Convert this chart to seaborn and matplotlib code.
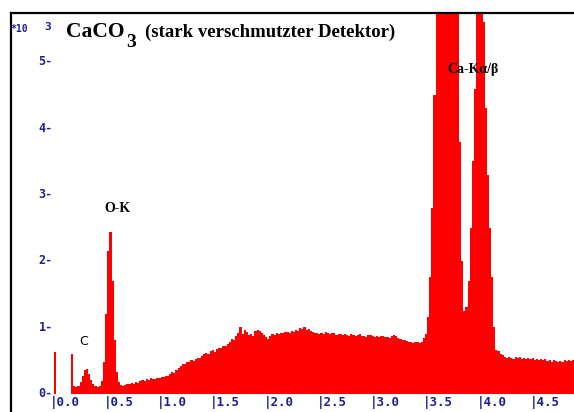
import numpy as np
import pandas as pd
import matplotlib
matplotlib.use("Agg")
import matplotlib.pyplot as plt
import matplotlib.transforms as mtransforms
import seaborn as sns

# EDX spectrum, 0.02 keV channels starting at 0 keV (counts per channel)
channel_kev = 0.02
counts = [
    620, 0, 0, 0, 0, 0, 0, 0, 590, 110,                      # 0.0
    105, 120, 175, 265, 350, 370, 300, 210, 140, 110,        # 0.2  C
    100, 110, 190, 480, 1200, 2150, 2430, 1700, 800, 330,    # 0.4  O-K
    180, 125, 120, 135, 150, 140, 165, 150, 175, 160,        # 0.6
    185, 200, 190, 215, 205, 230, 215, 225, 240, 235,        # 0.8
    250, 245, 265, 260, 300, 320, 310, 350, 390, 420,        # 1.0
    450, 440, 480, 470, 505, 490, 525, 540, 530, 560,        # 1.2
    590, 610, 600, 640, 655, 630, 670, 690, 680, 720,        # 1.4
    710, 745, 780, 820, 800, 860, 910, 1010, 890, 960,       # 1.6
    930, 880, 900, 870, 950, 960, 940, 905, 880, 850,        # 1.8
    820, 870, 890, 880, 905, 895, 920, 910, 935, 925,        # 2.0
    910, 940, 930, 960, 950, 990, 970, 1000, 960, 980,       # 2.2
    950, 930, 905, 915, 890, 920, 900, 935, 910, 895,        # 2.4
    905, 920, 880, 900, 890, 875, 895, 880, 870, 890,        # 2.6
    880, 865, 875, 890, 860, 870, 855, 875, 880, 865,        # 2.8
    850, 865, 845, 860, 870, 850, 855, 840, 860, 875,        # 3.0
    870, 840, 820, 800, 810, 790, 770, 780, 760, 775,        # 3.2
    770, 760, 780, 830, 900, 1150, 1750, 2800, 4500, 8000,   # 3.4
    12000, 16000, 19500, 21500, 22000, 20500, 17500, 13500, 9500, 6200,  # 3.6 Ca-Ka
    3800, 2000, 1250, 1300, 1700, 2500, 3500, 4600, 6500, 8500,          # 3.8
    8000, 5600, 4300, 3300, 2500, 1750, 1000, 660, 640, 600,             # 4.0 Ca-Kb
    580, 545, 530, 555, 540, 520, 545, 530, 550, 525,        # 4.2
    540, 520, 535, 515, 530, 510, 525, 500, 520, 505,        # 4.4
    515, 495, 505, 480, 500, 490, 470, 495, 480, 500,        # 4.6
    490, 505, 485, 500,                                      # 4.8
]

x_ticks = [0.0, 0.5, 1.0, 1.5, 2.0, 2.5, 3.0, 3.5, 4.0, 4.5]
x_labels = ["|0.0", "|0.5", "|1.0", "|1.5", "|2.0", "|2.5", "|3.0", "|3.5", "|4.0", "|4.5"]
y_ticks = [0, 1000, 2000, 3000, 4000, 5000]
y_labels = ["0-", "1-", "2-", "3-", "4-", "5-"]

peaks = [("C", 0.28, 777, "sans"), ("O-K", 0.60, 2790, "serif"), ("Ca-Kα/β", 3.93, 4880, "serif")]

n_ch = len(counts)
spec = pd.DataFrame({"energy": (np.arange(n_ch) + 0.5) * channel_kev, "counts": counts})

sns.set_style("white")
plt.rcParams["font.family"] = ["DejaVu Sans"]

W, H = 574, 412
fig = plt.figure(figsize=(W / 100, H / 100), dpi=100)
ax = fig.add_axes([11 / W, 0, 1 - 11 / W, 1 - 13 / H])

sns.histplot(data=spec, x="energy", weights="counts", binwidth=channel_kev,
             binrange=(0, n_ch * channel_kev), element="step",
             fill=True, color="#ff0000", alpha=1, linewidth=0, ax=ax)

ax.set_xlim(-0.403, 4.878)
ax.set_ylim(-279, 5739)
ax.set_xlabel("")
ax.set_ylabel("")

blue = "#1f1f8f"
ax.set_xticks(x_ticks)
ax.set_xticklabels(x_labels, ha="left", color=blue, family="DejaVu Sans Mono",
                   weight="bold", fontsize=9)
ax.set_yticks(y_ticks)
ax.set_yticklabels(y_labels, ha="right", va="center", color=blue,
                   family="DejaVu Sans Mono", weight="bold", fontsize=8.5)
ax.tick_params(axis="x", length=0, pad=-11.5)
ax.tick_params(axis="y", length=0, pad=-30)
# the "|" sits mid-cell, pull labels left so the bar lands on the tick
shift = mtransforms.ScaledTranslation(-3.8 / 100, 0, fig.dpi_scale_trans)
for lab in ax.get_xticklabels():
    lab.set_transform(lab.get_transform() + shift)

for side in ["right", "bottom"]:
    ax.spines[side].set_visible(False)
for side in ["left", "top"]:
    ax.spines[side].set_color("black")
    ax.spines[side].set_linewidth(1.6)

for label, e, c, kind in peaks:
    if kind == "sans":
        ax.text(e, c, label, ha="center", va="center", fontsize=9, color="black",
                family="DejaVu Sans")
    else:
        ax.text(e, c, label, ha="center", va="center", fontsize=10, color="black",
                family="Liberation Serif", weight="bold")


def px(x, y):
    return x / W, 1 - y / H


fig.text(*px(10, 32), "*10", color=blue, family="DejaVu Sans Mono", weight="bold",
         fontsize=7, va="baseline")
fig.text(*px(44, 30), "3", color=blue, family="DejaVu Sans Mono", weight="bold",
         fontsize=8, va="baseline")
fig.text(*px(66, 37), "CaCO", color="black", family="Liberation Serif", weight="bold",
         fontsize=15.5, va="baseline")
fig.text(*px(126, 47), "3", color="black", family="Liberation Serif", weight="bold",
         fontsize=14, va="baseline")
fig.text(*px(145, 37), "(stark verschmutzter Detektor)", color="black",
         family="Liberation Serif", weight="bold", fontsize=13.5, va="baseline")

fig.savefig("out.png", dpi=100)
